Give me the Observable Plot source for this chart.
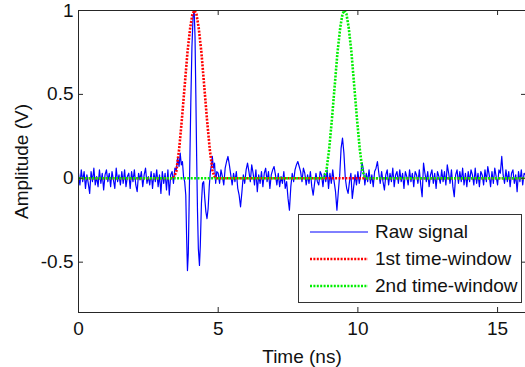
<!DOCTYPE html>
<html><head><meta charset="utf-8">
<script src="https://cdn.jsdelivr.net/npm/d3@7"></script>
<script src="https://cdn.jsdelivr.net/npm/@observablehq/plot@0.6"></script>
<style>
body{margin:0;background:#fff;font-family:"Liberation Sans",Arial,sans-serif;}
#wrap{position:relative;width:525px;height:367px;}
#legend{position:absolute;left:298px;top:214px;width:224px;height:89px;border:1px solid #333;background:#fff;box-sizing:border-box;font-size:19px;color:#111;}
.row{position:absolute;left:0;height:22px;display:flex;align-items:center;white-space:nowrap;}
.row svg{margin-left:11px;margin-right:7px;}
</style></head><body><div id="wrap"></div>
<script>
// ---- data ----
const xTicks = [0, 5, 10, 15];
const yTicks = [-0.5, 0, 0.5, 1];
const seriesNames = ["Raw signal", "1st time-window", "2nd time-window"];
const seriesColors = ["#0000ff", "#ff0000", "#00ee00"];

// raw signal, 0 .. 3.45 ns, sampled every 0.05 ns
const rawStep = 0.05;
const rawA = [0.03,-0.04,0.05,-0.02,0.04,-0.06,0.02,-0.03,-0.09,0.04,
  -0.02,0.06,-0.04,0.01,-0.05,0.05,-0.03,0.03,-0.07,0.02,
  0.05,-0.02,0.03,-0.05,0.04,-0.01,-0.06,0.06,-0.02,0.02,
  -0.04,0.04,-0.03,0.05,-0.05,0.01,0.03,-0.06,0.04,-0.02,
  0.05,-0.04,-0.08,0.03,-0.01,0.04,-0.05,0.02,0.06,-0.03,
  0.01,-0.04,0.04,-0.06,0.03,-0.02,0.05,-0.05,0.02,-0.09,
  0.04,-0.03,0.03,-0.07,0.05,-0.10,0.02,0.04,-0.03,0.06];
// main echo, 3.5 .. 4.95 ns
const pulseT = [3.50,3.55,3.60,3.64,3.68,3.72,3.76,3.80,3.84,3.87,
  3.90,3.93,3.96,3.99,4.02,4.06,4.10,4.14,4.17,4.20,
  4.23,4.26,4.29,4.33,4.36,4.40,4.44,4.48,4.52,4.56,
  4.60,4.64,4.68,4.72,4.76,4.79,4.83,4.87,4.91,4.95];
const pulseV = [0.05,0.12,0.07,0.15,0.08,0.10,0.01,-0.02,-0.10,-0.35,
  -0.55,-0.45,-0.15,0.15,0.45,0.78,0.96,1.00,0.85,0.50,
  0.12,-0.20,-0.42,-0.52,-0.40,-0.15,-0.03,-0.02,-0.12,-0.20,
  -0.24,-0.18,-0.05,0.04,0.08,0.13,0.06,0.09,-0.03,0.04];
// raw signal, 5.0 .. 16.0 ns, sampled every 0.05 ns
const rawBStart = 5;
const rawB = [0.03,-0.03,0.05,0.01,-0.04,0.06,0.10,0.13,0.08,0.02,
  -0.04,0.03,-0.02,0.04,-0.06,-0.10,-0.17,-0.08,0.02,-0.03,
  0.05,0.09,0.04,-0.02,0.08,0.03,-0.04,0.05,-0.08,0.02,
  -0.03,0.04,-0.05,0.03,0.06,-0.02,0.04,-0.06,0.02,0.05,
  0.07,0.02,-0.04,0.03,-0.05,0.01,-0.03,0.04,-0.06,-0.02,
  -0.12,-0.19,-0.05,0.03,-0.02,0.05,0.08,0.10,0.07,0.04,
  -0.02,0.06,0.03,-0.04,0.02,-0.03,0.04,-0.05,-0.10,-0.03,
  0.03,-0.02,-0.04,0.04,0.02,-0.05,0.03,-0.02,0.05,-0.06,
  0.03,-0.03,0.05,-0.02,-0.08,-0.19,-0.08,0.02,0.18,0.24,
  0.15,0.00,-0.06,-0.09,-0.02,0.03,-0.12,-0.05,0.02,-0.04,
  0.04,-0.03,0.02,0.09,0.05,-0.04,0.03,-0.02,0.05,-0.03,
  0.02,-0.05,0.04,0.06,0.10,0.03,-0.03,0.04,-0.02,-0.07,
  0.02,0.05,-0.04,0.03,-0.02,0.06,-0.05,0.02,0.04,-0.03,
  0.05,-0.02,0.03,-0.06,0.04,0.01,-0.04,0.05,-0.02,0.03,
  -0.05,0.04,0.02,-0.03,0.05,-0.04,-0.11,0.09,0.03,-0.02,
  0.04,-0.05,0.02,0.05,-0.03,0.03,-0.06,0.04,0.01,-0.03,
  0.05,-0.02,0.04,-0.04,0.08,0.03,-0.03,0.05,-0.05,-0.11,
  0.02,0.05,-0.03,0.04,-0.02,0.06,-0.04,0.03,-0.05,0.04,
  -0.02,0.05,0.02,-0.04,0.06,-0.03,0.03,-0.05,0.04,0.02,
  -0.04,0.05,-0.02,0.07,0.02,-0.05,0.04,-0.03,0.06,0.01,
  -0.04,0.05,0.03,0.13,0.02,-0.03,0.05,-0.02,0.04,-0.05,
  0.03,0.05,-0.03,0.02,-0.08,0.04,-0.02,0.05,-0.04,0.03,
  0.02];
// time windows
const win1T = [0,3.40,3.50,3.60,3.70,3.80,3.90,4.00,4.08,4.15,4.22,4.30,4.40,4.50,4.60,4.70,4.80,4.90,16];
const win1V = [0,0,0.04,0.17,0.35,0.55,0.75,0.90,0.98,1.00,0.98,0.90,0.75,0.55,0.35,0.17,0.04,0,0];
const win2T = [0,8.77,8.87,8.97,9.07,9.17,9.27,9.37,9.45,9.52,9.59,9.67,9.77,9.87,9.97,10.07,10.17,10.27,16];
const win2V = [0,0,0.04,0.17,0.35,0.55,0.75,0.90,0.98,1.00,0.98,0.90,0.75,0.55,0.35,0.17,0.04,0,0];

// ---- build tables ----
const raw = [
  ...rawA.map((v, i) => ({t: i * rawStep, v})),
  ...pulseT.map((t, i) => ({t, v: pulseV[i]})),
  ...rawB.map((v, i) => ({t: rawBStart + i * rawStep, v}))
];
const w1 = win1T.map((t, i) => ({t, v: win1V[i]}));
const w2 = win2T.map((t, i) => ({t, v: win2V[i]}));

const ink = "#262626";
const dash = "2,1.4";
const chart = Plot.plot({
  width: 525, height: 367,
  marginLeft: 78, marginRight: 0, marginTop: 10, marginBottom: 55,
  style: {fontFamily: "'Liberation Sans', Arial, sans-serif", fontSize: "19px", color: "#111", background: "#fff", overflow: "visible"},
  x: {domain: [0, 16]},
  y: {domain: [-0.8, 1]},
  marks: [
    Plot.line(raw, {x: "t", y: "v", stroke: seriesColors[0], strokeWidth: 1.2}),
    Plot.line(w1, {x: "t", y: "v", stroke: seriesColors[1], strokeWidth: 2.6, strokeDasharray: dash, strokeLinecap: "butt", strokeLinejoin: "miter"}),
    Plot.line(w2, {x: "t", y: "v", stroke: seriesColors[2], strokeWidth: 2.6, strokeDasharray: dash, strokeLinecap: "butt", strokeLinejoin: "miter"}),
    Plot.frame({anchor: "top", stroke: ink}),
    Plot.frame({anchor: "left", stroke: ink}),
    Plot.frame({anchor: "bottom", stroke: ink}),
    Plot.ruleX(xTicks, {x: d => d, insetTop: 297, stroke: ink}),
    Plot.ruleX(xTicks, {x: d => d, insetBottom: 297, stroke: ink}),
    Plot.ruleY(yTicks, {y: d => d, insetRight: 442, stroke: ink}),
    Plot.ruleY(yTicks, {y: d => d, insetLeft: 443, stroke: ink}),
    Plot.axisX(xTicks, {tickSize: 0, tickPadding: 9, tickFormat: d => String(d), label: "Time (ns)", labelAnchor: "center", labelArrow: "none", labelOffset: 50}),
    Plot.axisY(yTicks, {tickSize: 0, tickPadding: 5, tickFormat: d => String(d), label: "Amplitude (V)", labelAnchor: "center", labelArrow: "none", labelOffset: 64})
  ]
});
const wrap = document.getElementById("wrap");
wrap.appendChild(chart);

// legend overlay
const legend = document.createElement("div");
legend.id = "legend";
const rowTops = [6, 33, 60];
seriesNames.forEach((name, i) => {
  const row = document.createElement("div");
  row.className = "row";
  row.style.top = rowTops[i] + "px";
  const da = i === 0 ? "" : `stroke-dasharray="${dash}"`;
  const sw = i === 0 ? 1 : 2.6;
  row.innerHTML = `<svg width="58" height="6"><line x1="0" x2="58" y1="3" y2="3" stroke="${seriesColors[i]}" stroke-width="${sw}" ${da}/></svg><span>${name}</span>`;
  legend.appendChild(row);
});
wrap.appendChild(legend);
</script>
</body></html>
